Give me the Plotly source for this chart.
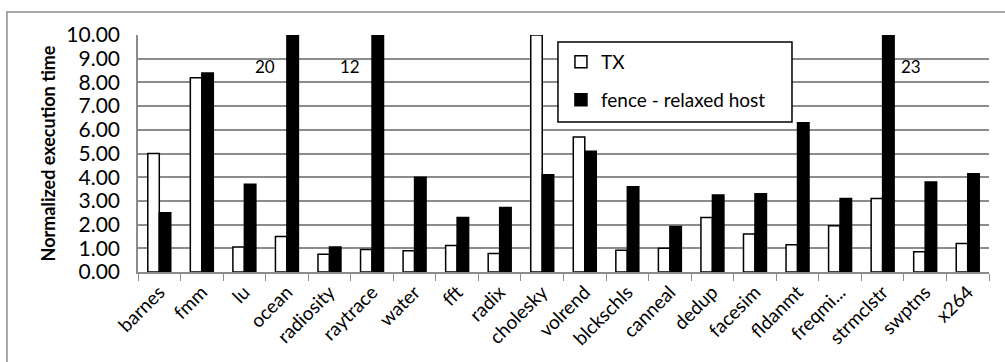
import plotly.graph_objects as go

categories = ["barnes", "fmm", "lu", "ocean", "radiosity", "raytrace", "water", "fft", "radix",
              "cholesky", "volrend", "blckschls", "canneal", "dedup", "facesim", "fldanmt",
              "freqmi...", "strmclstr", "swptns", "x264"]
tx_values = [5.0, 8.2, 1.05, 1.5, 0.75, 0.95, 0.9, 1.12, 0.78, 10.0, 5.7, 0.92, 1.0, 2.3, 1.6, 1.15, 1.95, 3.1, 0.85, 1.2]
fence_values = [2.5, 8.4, 3.7, 20, 1.05, 12, 4.0, 2.3, 2.72, 4.1, 5.1, 3.6, 1.92, 3.25, 3.3, 6.3, 3.1, 23, 3.8, 4.15]
off_scale = [("ocean", "20", -22), ("raytrace", "12", -22), ("strmclstr", "23", 28)]

FONT = "Lato"

fig = go.Figure()
fig.add_trace(go.Bar(x=categories, y=tx_values, name="TX", legend="legend",
                     marker=dict(color="white", line=dict(color="black", width=1.5))))
fig.add_trace(go.Bar(x=categories, y=fence_values, name="fence - relaxed host", legend="legend2",
                     marker=dict(color="black", line=dict(color="black", width=1.5))))

for cat, txt, dx in off_scale:
    idx = categories.index(cat)
    fig.add_annotation(x=idx, y=9.0, xref="x", yref="y", text=txt, showarrow=False,
                       xshift=dx, yshift=-8,
                       font=dict(family=FONT, size=17, color="black"))

# outer chart frame
fig.add_shape(type="rect", xref="paper", yref="paper", x0=-0.154, x1=1.05, y0=-0.5, y1=1.097,
              line=dict(color="#8c8c8c", width=1.5), fillcolor="rgba(0,0,0,0)", layer="below")
# legend frame
fig.add_shape(type="rect", xref="paper", yref="paper", x0=0.4935, x1=0.7685, y0=0.633, y1=0.970,
              line=dict(color="black", width=1.5), fillcolor="white", layer="above")

legend_common = dict(xanchor="left", yanchor="middle", borderwidth=0, bgcolor="rgba(0,0,0,0)",
                     font=dict(family=FONT, size=19), itemwidth=30)

fig.update_layout(
    width=1005, height=362,
    margin=dict(l=138, r=16, t=35, b=90),
    paper_bgcolor="white", plot_bgcolor="white",
    barmode="group", bargap=0.46, bargroupgap=0,
    font=dict(family=FONT, size=16, color="black"),
    showlegend=True,
    legend=dict(x=0.497, y=0.886, **legend_common),
    legend2=dict(x=0.497, y=0.726, **legend_common),
    xaxis=dict(showline=True, linecolor="#8c8c8c", linewidth=1.5,
               ticks="outside", tickson="boundaries", ticklen=7, tickcolor="#8c8c8c",
               tickangle=-45, tickfont=dict(family=FONT, size=19)),
    yaxis=dict(range=[0, 10], dtick=1, tickformat=".2f", showgrid=True,
               gridcolor="#8c8c8c", gridwidth=1.5, showline=True, linecolor="#8c8c8c",
               linewidth=1.5, tickfont=dict(family=FONT, size=21), ticklabelstandoff=12,
               title=dict(text="<b>Normalized execution time</b>", font=dict(family=FONT, size=18),
                          standoff=6)),
)

fig.write_html("out.html")
